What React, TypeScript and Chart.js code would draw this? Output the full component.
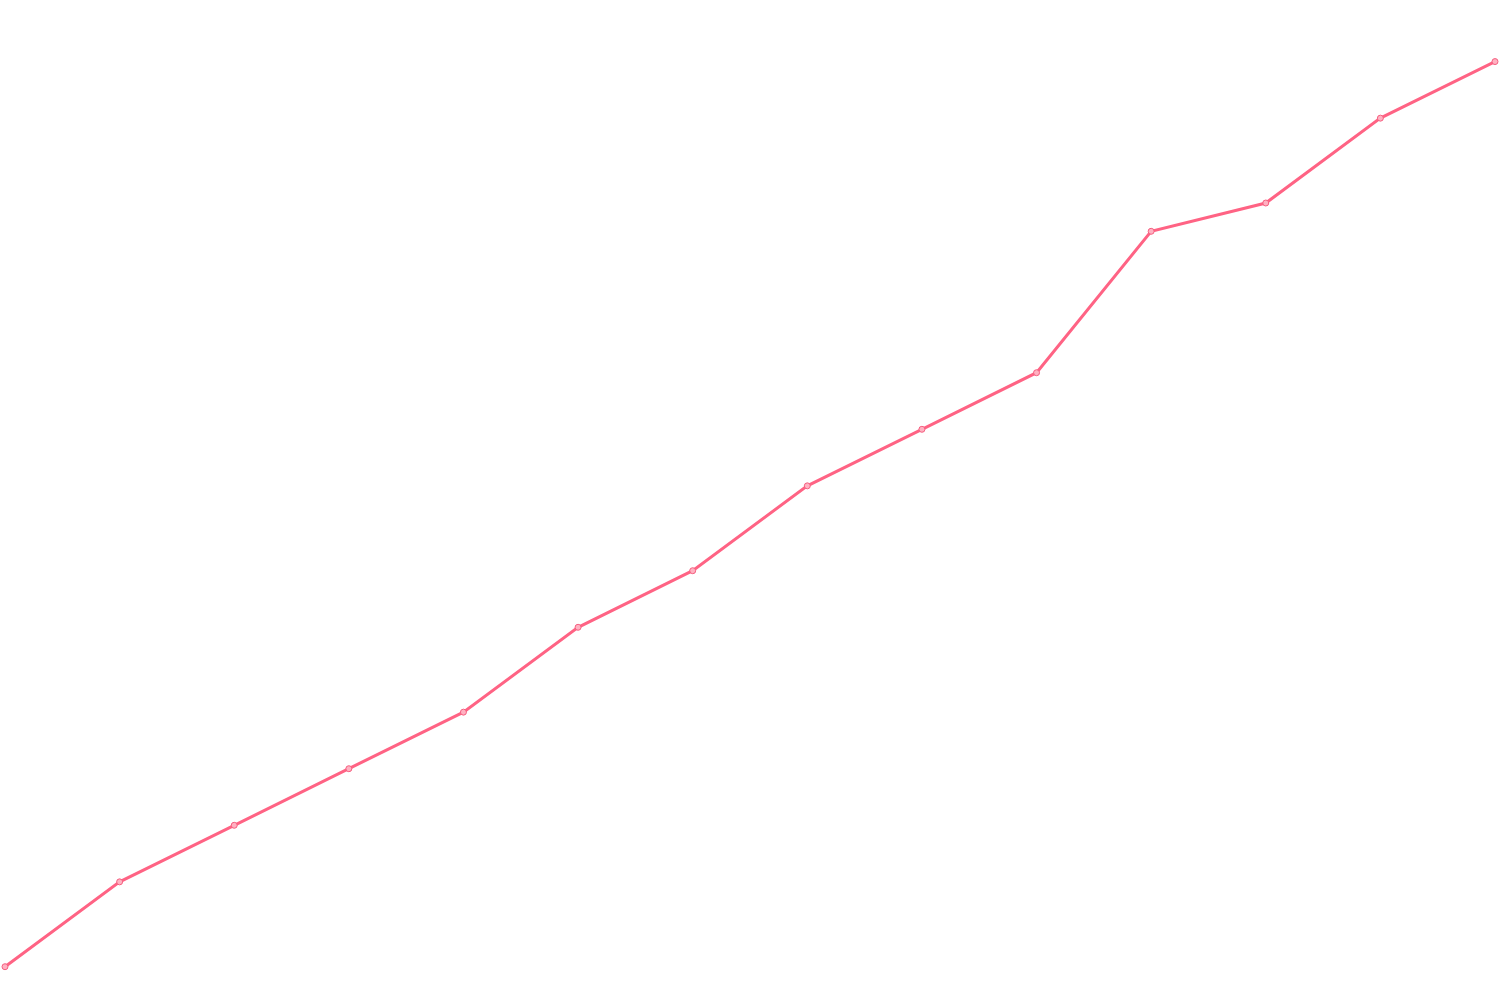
import { useEffect, useRef } from "react";
import Chart from "chart.js/auto";

const labels = ["1", "2", "3", "4", "5", "6", "7", "8", "9", "10", "11", "12", "13", "14"];
const values = [0, 3, 5, 7, 9, 12, 14, 17, 19, 21, 26, 27, 30, 32];

const lineColor = "rgb(255, 99, 132)";
const pointFill = "rgb(255, 177, 193)";
const pointEdge = "rgb(245, 95, 128)";

export default function App() {
  const canvasRef = useRef<HTMLCanvasElement>(null);

  useEffect(() => {
    if (!canvasRef.current) return;
    const chart = new Chart(canvasRef.current, {
      type: "line",
      data: {
        labels,
        datasets: [
          {
            label: "series",
            data: values,
            borderColor: lineColor,
            backgroundColor: pointFill,
            pointBackgroundColor: pointFill,
            pointBorderColor: pointEdge,
            pointBorderWidth: 1,
            borderWidth: 3,
            pointRadius: 3,
          },
        ],
      },
      options: {
        animation: false,
        responsive: true,
        maintainAspectRatio: false,
        layout: {
          autoPadding: false,
          padding: { left: 5, right: 5, top: 5, bottom: 5 },
        },
        plugins: {
          legend: { display: false },
          tooltip: { enabled: false },
        },
        scales: {
          x: { display: false },
          y: { display: false, min: -1, max: 34 },
        },
      },
    });
    return () => chart.destroy();
  }, []);

  return (
    <div style={{ position: "fixed", left: 0, top: 0, width: 1500, height: 1000, background: "#fff" }}>
      <canvas ref={canvasRef} />
    </div>
  );
}
